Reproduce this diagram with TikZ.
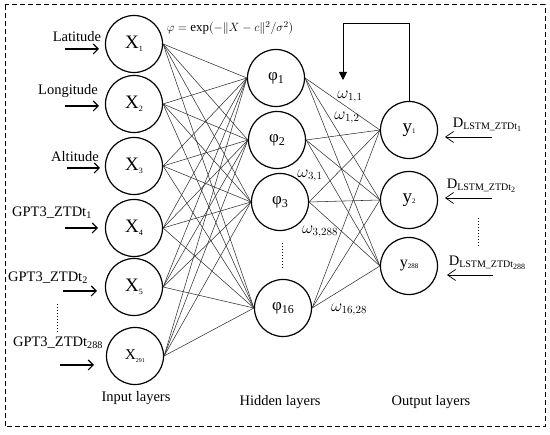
\documentclass[tikz,border=0pt]{standalone}
\usepackage{fontspec}
\setmainfont{Liberation Serif}
\usetikzlibrary{arrows.meta}
\newcommand{\sbs}[2]{#1\textsubscript{\fontsize{#2}{#2}\selectfont}}
\begin{document}
\begin{tikzpicture}[x=1pt,y=-1pt,
  neuron/.style={circle,draw,line width=1.2pt,minimum size=57pt,inner sep=0pt},
  conn/.style={line width=0.55pt,draw=black!80},
  lbl/.style={font=\fontsize{14.5}{14.5}\selectfont,inner sep=0pt},
  wlbl/.style={font=\fontsize{16}{16}\selectfont,inner sep=0pt},
  inarrow/.style={line width=1.1pt,-{Straight Barb[length=5pt,width=10pt,line width=1.1pt]}},
  outarrow/.style={line width=0.7pt,-{Straight Barb[length=8pt,width=11pt,line width=0.7pt]}},
  dots/.style={dotted,line width=1pt}]
\useasboundingbox (0,0) rectangle (550,435);
\draw[dashed,line width=1pt,dash pattern=on 5pt off 3pt] (5,5) rectangle (545,427);

% input layer
\node[neuron] (x1) at (134,44) {\fontsize{19}{19}\selectfont X\raisebox{-3pt}{\fontsize{8}{8}\selectfont 1}};
\node[neuron] (x2) at (134,104) {\fontsize{19}{19}\selectfont X\raisebox{-3pt}{\fontsize{8}{8}\selectfont 2}};
\node[neuron] (x3) at (134,166) {\fontsize{19}{19}\selectfont X\raisebox{-3pt}{\fontsize{8}{8}\selectfont 3}};
\node[neuron] (x4) at (134,228) {\fontsize{19}{19}\selectfont X\raisebox{-3pt}{\fontsize{8}{8}\selectfont 4}};
\node[neuron] (x5) at (134,287) {\fontsize{19}{19}\selectfont X\raisebox{-3pt}{\fontsize{8}{8}\selectfont 5}};
\node[neuron] (x291) at (135,356) {\fontsize{15}{15}\selectfont X\raisebox{-3pt}{\fontsize{6}{6}\selectfont 291}};

% hidden layer
\node[neuron] (h1) at (276,78) {\fontsize{17}{17}\selectfont φ\raisebox{-3pt}{\fontsize{12}{12}\selectfont 1}};
\node[neuron] (h2) at (277,140) {\fontsize{17}{17}\selectfont φ\raisebox{-3pt}{\fontsize{12}{12}\selectfont 2}};
\node[neuron] (h3) at (280,202) {\fontsize{17}{17}\selectfont φ\raisebox{-3pt}{\fontsize{12}{12}\selectfont 3}};
\node[neuron] (h16) at (283,308) {\fontsize{17}{17}\selectfont φ\raisebox{-3pt}{\fontsize{12}{12}\selectfont 16}};

% output layer
\node[neuron] (y1) at (409,130) {\fontsize{19}{19}\selectfont y\raisebox{-1pt}{\fontsize{7}{7}\selectfont 1}};
\node[neuron] (y2) at (409,200) {\fontsize{19}{19}\selectfont y\raisebox{-1pt}{\fontsize{7}{7}\selectfont 2}};
\node[neuron] (y288) at (409,266) {\fontsize{16}{16}\selectfont y\raisebox{-1pt}{\fontsize{7}{7}\selectfont 288}};

% connections
\foreach \i in {x1,x2,x3,x4,x5,x291}
  \foreach \h in {h1,h2,h3,h16}
    \draw[conn] (\i.east) -- (\h.west);
\foreach \h in {h1,h2,h3,h16}
  \foreach \o in {y1,y2,y288}
    \draw[conn] (\h.east) -- (\o.west);

% feedback loop
\coordinate (fbA) at (409,23);
\coordinate (fbB) at (343,23);
\coordinate (fbC) at (343,80);
\draw[line width=0.8pt,-{Triangle[length=8pt,width=8pt]}] (y1.north) -- (fbA) -- (fbB) -- (fbC);

% formula
\node[font=\fontsize{13}{13}\selectfont,inner sep=0pt] (formula) at (230,28) {$\varphi = \exp(-\|X-c\|^{2}/\sigma^{2})$};

% input labels and arrows
\node[lbl] (lat) at (77,37) {Latitude};
\coordinate (a1s) at (65,49); \coordinate (a1e) at (99,49);
\draw[inarrow] (a1s) -- (a1e);
\node[lbl] (lon) at (68,91) {Longitude};
\coordinate (a2s) at (65,106); \coordinate (a2e) at (99,106);
\draw[inarrow] (a2s) -- (a2e);
\node[lbl] (alt) at (75,157) {Altitude};
\coordinate (a3s) at (67,168); \coordinate (a3e) at (100,168);
\draw[inarrow] (a3s) -- (a3e);
\node[lbl] (g1) at (52,213) {GPT3\_ZTDt\textsubscript{1}};
\coordinate (a4s) at (65,228); \coordinate (a4e) at (98,228);
\draw[inarrow] (a4s) -- (a4e);
\node[lbl] (g2) at (48,278) {GPT3\_ZTDt\textsubscript{2}};
\coordinate (a5s) at (63,291); \coordinate (a5e) at (97,291);
\draw[inarrow] (a5s) -- (a5e);
\coordinate (d1s) at (57,304); \coordinate (d1e) at (57,332);
\draw[dots] (d1s) -- (d1e);
\node[lbl] (g288) at (58,343) {GPT3\_ZTDt\textsubscript{288}};
\coordinate (a6s) at (60,365); \coordinate (a6e) at (94,365);
\draw[inarrow] (a6s) -- (a6e);

% hidden dots
\coordinate (d2s) at (282,243); \coordinate (d2e) at (282,270);
\draw[dots] (d2s) -- (d2e);

% output labels and arrows
\node[lbl] (D1) at (487,125) {D\raisebox{-2pt}{\fontsize{10}{10}\selectfont LSTM\_ZTDt\raisebox{-1.5pt}{\fontsize{8}{8}\selectfont 1}}};
\coordinate (b1s) at (492,137); \coordinate (b1e) at (445,137);
\draw[outarrow] (b1s) -- (b1e);
\node[lbl] (D2) at (481,186) {D\raisebox{-2pt}{\fontsize{10}{10}\selectfont LSTM\_ZTDt\raisebox{-1.5pt}{\fontsize{8}{8}\selectfont 2}}};
\coordinate (b2s) at (492,198); \coordinate (b2e) at (445,198);
\draw[outarrow] (b2s) -- (b2e);
\coordinate (d3s) at (478,218); \coordinate (d3e) at (478,246);
\draw[dots] (d3s) -- (d3e);
\node[lbl] (D288) at (487,263) {D\raisebox{-2pt}{\fontsize{10}{10}\selectfont LSTM\_ZTDt\raisebox{-1.5pt}{\fontsize{8}{8}\selectfont 288}}};
\coordinate (b3s) at (493,275); \coordinate (b3e) at (447,275);
\draw[outarrow] (b3s) -- (b3e);

% weight labels
\node[wlbl] (w11) at (350,97) {$\omega_{1,1}$};
\node[wlbl] (w12) at (347,118) {$\omega_{1,2}$};
\node[wlbl] (w31) at (310,176) {$\omega_{3,1}$};
\node[wlbl] (w3288) at (320,232) {$\omega_{3,288}$};
\node[wlbl] (w1628) at (349,310) {$\omega_{16,28}$};

% layer labels
\node[lbl] (il) at (136,398) {Input layers};
\node[lbl] (hl) at (280,402) {Hidden layers};
\node[lbl] (ol) at (431,402) {Output layers};
\end{tikzpicture}
\end{document}
